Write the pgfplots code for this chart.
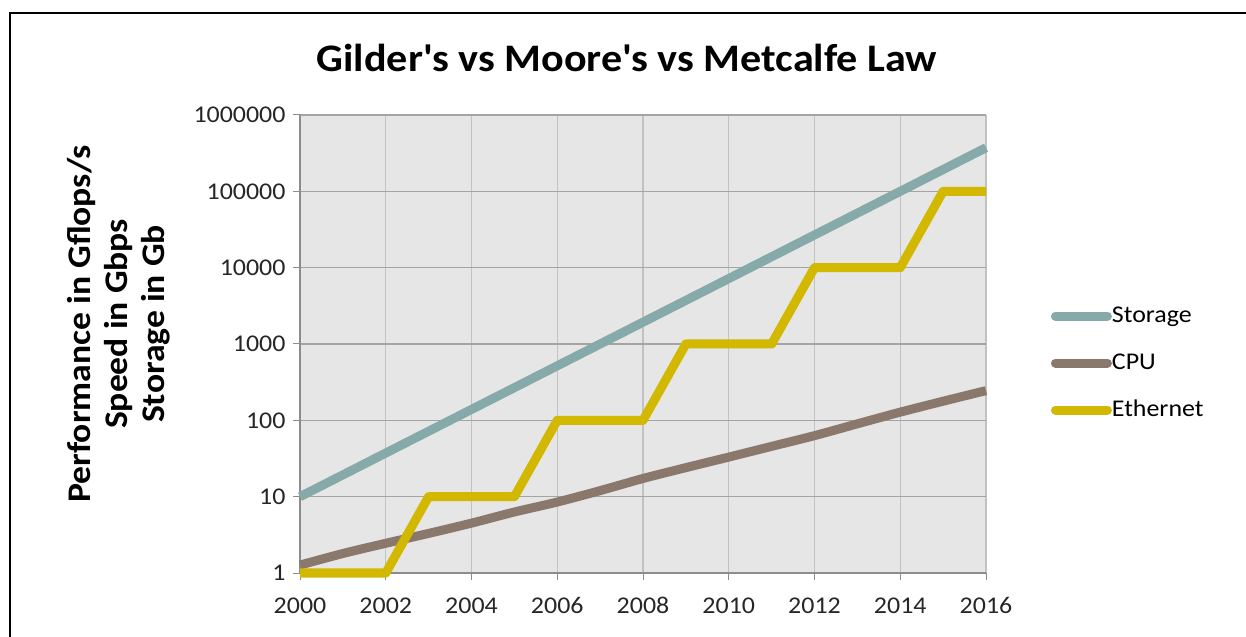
\documentclass[border=0pt]{standalone}
\usepackage{fontspec}
\setmainfont{Carlito}[FakeStretch=1.08]
\usepackage{pgfplots}
\pgfplotsset{compat=1.18}

\definecolor{storagec}{HTML}{86AAAA}
\definecolor{cpuc}{HTML}{8B786D}
\definecolor{ethc}{HTML}{D2B800}
\definecolor{plotbg}{HTML}{E6E6E6}
\definecolor{gridc}{HTML}{B3B3B3}
\definecolor{axisc}{HTML}{8C8C8C}

\begin{document}
\begin{tikzpicture}
% page = 1246 x 637 px, 1bp = 1px
\path[use as bounding box] (0,0) rectangle (1246bp,637bp);
\draw[line width=2.5bp, black] (10bp,0) -- (10bp,624bp) -- (1246bp,624bp);

\node[font=\bfseries\fontsize{39bp}{44bp}\selectfont] at (627bp,579bp)
  {Gilder\textquotesingle s vs Moore\textquotesingle s vs Metcalfe Law};

\node[font=\bfseries\fontsize{33bp}{37bp}\selectfont, rotate=90, align=center]
  at (119bp,313bp) {Performance in Gflops/s\\Speed in Gbps\\Storage in Gb};

\begin{axis}[
    at={(300bp,64bp)}, anchor=south west,
    scale only axis,
    width=686bp, height=458bp,
    xmin=2000, xmax=2016,
    ymode=log, ymin=1, ymax=1000000,
    xtick={2000,2002,...,2016},
    minor x tick num=1,
    ytick={1,10,100,1000,10000,100000,1000000},
    yticklabels={1,10,100,1000,10000,100000,1000000},
    yminorticks=false, yminorgrids=false,
    /pgf/number format/1000 sep={},
    /pgf/number format/assume math mode=true,
    tick label style={font=\fontsize{24bp}{24bp}\selectfont, text=black!85},
    xticklabel style={yshift=-14bp},
    yticklabel style={xshift=-4bp},
    tick align=outside,
    major tick length=7bp, minor tick length=0pt,
    tick style={axisc, line width=1bp},
    xmajorgrids, xminorgrids, ymajorgrids,
    major x grid style={gridc!80, line width=1.2bp},
    major y grid style={gridc!120, line width=1.2bp},
    minor grid style={gridc!80, line width=1.2bp},
    axis x line*=bottom, axis y line*=left,
    axis line style={axisc, line width=1.2bp, -},
    axis background/.style={fill=plotbg},
    clip=false,
    legend style={at={(1.09,0.4585)}, anchor=west, draw=none, fill=none,
        font=\fontsize{24bp}{24bp}\selectfont, row sep=25bp,
        nodes={inner sep=0pt, text height=17bp, text depth=5bp}},
    legend cell align=left,
    legend image code/.code={\draw[#1, line cap=round] (0bp,0bp) -- (52bp,0bp);},
]

% Storage
\addplot[storagec, line width=9bp] coordinates {
  (2000,10) (2001,19.3) (2002,37.3) (2003,72) (2004,139) (2005,268)
  (2006,518) (2007,1000) (2008,1931) (2009,3728) (2010,7197) (2011,13895)
  (2012,26827) (2013,51795) (2014,100000) (2015,193070) (2016,372759)
};
\addlegendentry{Storage}

% CPU
\addplot[cpuc, line width=9bp, smooth] coordinates {
  (2000,1.27) (2001,1.8) (2002,2.45) (2003,3.3) (2004,4.5) (2005,6.3)
  (2006,8.5) (2007,12) (2008,17.3) (2009,24) (2010,33) (2011,45.6)
  (2012,63) (2013,90) (2014,128) (2015,178) (2016,245)
};
\addlegendentry{CPU}

% Ethernet
\addplot[ethc, line width=9bp, line join=round] coordinates {
  (2000,1) (2001,1) (2002,1) (2003,10) (2004,10) (2005,10)
  (2006,100) (2007,100) (2008,100) (2009,1000) (2010,1000) (2011,1000)
  (2012,10000) (2013,10000) (2014,10000) (2015,100000) (2016,100000)
};
\addlegendentry{Ethernet}

\end{axis}
\end{tikzpicture}
\end{document}
